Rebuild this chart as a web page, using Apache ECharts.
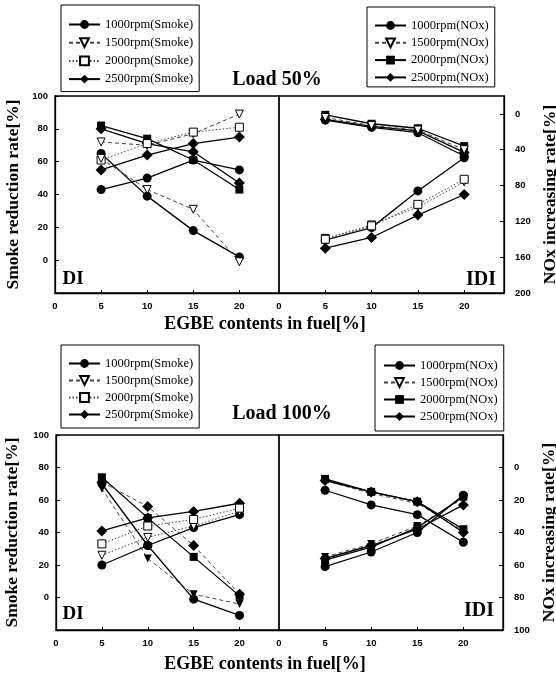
<!DOCTYPE html>
<html>
<head>
<meta charset="UTF-8">
<title>EGBE smoke / NOx</title>
<style>
body{margin:0;background:#fff;}
#picContainer{width:556px;height:677px;}
</style>
</head>
<body>
<div id="picContainer"></div>
<script src="https://cdn.jsdelivr.net/npm/echarts@6.0.0/dist/echarts.min.js"></script>
<script>
// EGBE contents in fuel [%]
var contents = [5, 10, 15, 20];
var xTicks = [0, 5, 10, 15, 20];
var smokeTicks = [0, 20, 40, 60, 80, 100];
var nox50Ticks = [0, 40, 80, 120, 160, 200];
var nox100Ticks = [0, 20, 40, 60, 80, 100];
var smokeNames = ['1000rpm(Smoke)', '1500rpm(Smoke)', '2000rpm(Smoke)', '2500rpm(Smoke)'];
var noxNames = ['1000rpm(NOx)', '1500rpm(NOx)', '2000rpm(NOx)', '2500rpm(NOx)'];

// Load 50%, DI  (two lines per speed)
var di50_1000 = [[65, 39, 18, 2], [43, 50, 61, 55]];
var di50_1500 = [[72, 70, 77, 89], [62, 43, 31, -1]];
var di50_2000 = [[61, 71, 78, 81], [82, 74, 61, 43]];
var di50_2500 = [[55, 64, 71, 75], [80, 71, 66, 47]];
// Load 50%, IDI (right axis, reversed)
var idi50_1000 = [[7, 15, 21, 47], [141, 127, 86, 49]];
var idi50_1500 = [[4, 13, 18, 40], [139, 124, 104, 76]];
var idi50_2000 = [[1, 11, 16, 36], [140, 125, 101, 73]];
var idi50_2500 = [[6, 14, 19, 43], [150, 138, 113, 90]];
// Load 100%, DI
var di100_1000 = [[70, 32, -1, -11], [20, 32, 43, 51]];
var di100_1500 = [[67, 24, 2, -4], [26, 37, 44, 53]];
var di100_2000 = [[74, 49, 25, 1], [33, 44, 48, 55]];
var di100_2500 = [[71, 56, 32, 2], [41, 49, 53, 58]];
// Load 100%, IDI
var idi100_1000 = [[14, 23, 29, 46], [61, 52, 40, 17]];
var idi100_1500 = [[8, 16, 22, 39], [55, 47, 36, 19]];
var idi100_2000 = [[7, 15, 21, 38], [57, 49, 37, 18]];
var idi100_2500 = [[8, 15, 21, 40], [56, 48, 38, 23]];

main();

function main(){
    var myChart = echarts.init(document.getElementById('picContainer'));
    var serif = 'Liberation Serif';
    var sans = 'Liberation Sans';

    // symbol, F(illed)/O(pen), line: '-' solid, ':' dotted, '~' dashed
    var panels = [
        {names: smokeNames, lines: [di50_1000, di50_1500, di50_2000, di50_2500],
         codes: [['cF-', 'cF-'], ['tO~', 'tO~'], ['rO:', 'rF-'], ['dF-', 'dF-']]},
        {names: noxNames, lines: [idi50_1000, idi50_1500, idi50_2000, idi50_2500],
         codes: [['cF-', 'cF-'], ['tO~', 'tO:'], ['rF-', 'rO:'], ['dF-', 'dF-']]},
        {names: smokeNames, lines: [di100_1000, di100_1500, di100_2000, di100_2500],
         codes: [['cF-', 'cF-'], ['tF~', 'tO:'], ['rF-', 'rO:'], ['dF~', 'dF-']]},
        {names: noxNames, lines: [idi100_1000, idi100_1500, idi100_2000, idi100_2500],
         codes: [['cF-', 'cF-'], ['tF~', 'tF~'], ['rF-', 'rF-'], ['dF-', 'dF-']]}
    ];

    var marks = {
        c: {symbol: 'circle', size: 9, rotate: 0},
        t: {symbol: 'triangle', size: 8, rotate: 180},
        r: {symbol: 'rect', size: 8, rotate: 0},
        d: {symbol: 'diamond', size: 11, rotate: 0}
    };

    function makeSeries(name, vals, code, gi){
        var m = marks[code[0]];
        var open = code[1] === 'O';
        var ls = {color: '#000', width: 1.3, type: 'solid'};
        if (code[2] === ':') ls = {color: '#444', width: 1, type: [1.5, 2]};
        if (code[2] === '~') ls = {color: '#444', width: 1, type: [4, 3]};
        return {
            name: name, type: 'line',
            xAxisIndex: gi, yAxisIndex: gi,
            data: contents.map(function (x, i) { return [x, vals[i]]; }),
            symbol: m.symbol, symbolSize: m.size, symbolRotate: m.rotate,
            showAllSymbol: true,
            itemStyle: {color: open ? '#fff' : '#000', borderColor: '#000', borderWidth: open ? 1 : 0},
            lineStyle: ls,
            emphasis: {disabled: true},
            z: open ? 3 : 2
        };
    }

    var series = [];
    panels.forEach(function (p, gi){
        for (var k = 0; k < 2; k++) {
            for (var r = 0; r < 4; r++) {
                series.push(makeSeries(p.names[r], p.lines[r][k], p.codes[r][k], gi));
            }
        }
    });

    var grids = [
        {left: 55, top: 96, width: 224, height: 197},
        {left: 279, top: 96, width: 225, height: 197},
        {left: 56, top: 435, width: 223, height: 195},
        {left: 279, top: 435, width: 224, height: 195}
    ];
    grids.forEach(function (g){
        g.show = true; g.borderColor = '#000'; g.borderWidth = 1.3;
        g.outerBoundsMode = 'none'; g.containLabel = false;
    });

    function xAxis(gi){
        return {
            type: 'value', gridIndex: gi, min: 0, max: 24.3,
            axisLine: {show: true, onZero: false, lineStyle: {color: '#000', width: 1.3}},
            axisTick: {show: true, inside: true, length: 3, customValues: xTicks, lineStyle: {color: '#000'}},
            axisLabel: {customValues: xTicks, fontFamily: sans, fontSize: 9.5, fontWeight: 'bold', color: '#000', margin: 8},
            splitLine: {show: false}
        };
    }
    function yAxis(gi, pos, min, max, ticks, inverse, name, gap){
        return {
            type: 'value', gridIndex: gi, position: pos, min: min, max: max, inverse: inverse,
            name: name, nameLocation: 'middle', nameRotate: 90, nameGap: gap,
            nameTextStyle: {fontFamily: serif, fontWeight: 'bold', fontSize: 17.5, color: '#000'},
            axisLine: {show: true, onZero: false, lineStyle: {color: '#000', width: 1.3}},
            axisTick: {show: true, inside: true, length: 4, customValues: ticks, lineStyle: {color: '#000'}},
            axisLabel: {customValues: ticks, fontFamily: sans, fontSize: 9.5, fontWeight: 'bold', color: '#000',
                        margin: pos === 'left' ? 7 : 11},
            splitLine: {show: false}
        };
    }

    function legend(names, left, top, pad, gap){
        return {
            data: names, orient: 'vertical', left: left, top: top,
            padding: pad, itemGap: gap, itemWidth: 31, itemHeight: 11,
            borderColor: '#000', borderWidth: 1, selectedMode: false,
            textStyle: {fontFamily: serif, fontSize: 12.5, color: '#000', lineHeight: 12}
        };
    }

    function label(text, x, y, size){
        return {
            type: 'text', x: x, y: y,
            style: {text: text, fontFamily: serif, fontWeight: 'bold', fontSize: size,
                    fill: '#000', align: 'center', verticalAlign: 'middle'}
        };
    }

    var option = {
        animation: false,
        backgroundColor: '#fff',
        grid: grids,
        xAxis: [xAxis(0), xAxis(1), xAxis(2), xAxis(3)],
        yAxis: [
            yAxis(0, 'left', -20, 100, smokeTicks, false, 'Smoke reduction rate[%]', 33),
            yAxis(1, 'right', -20, 200, nox50Ticks, true, 'NOx increasing rate[%]', 37),
            yAxis(2, 'left', -20, 100, smokeTicks, false, 'Smoke reduction rate[%]', 35),
            yAxis(3, 'right', -20, 100, nox100Ticks, true, 'NOx increasing rate[%]', 37)
        ],
        legend: [
            legend(smokeNames, 61, 5, [13, 6, 6, 7], 5.2),
            legend(noxNames, 367, 7, [12, 6, 3, 7], 4.3),
            legend(smokeNames, 61, 345, [12, 6, 7, 7], 4),
            legend(noxNames, 375, 345, [14, 6, 8, 8], 4)
        ],
        graphic: [
            label('Load 50%', 277, 80, 20),
            label('Load 100%', 282, 414, 20),
            label('EGBE contents in fuel[%]', 265, 324, 18),
            label('EGBE contents in fuel[%]', 265, 664, 18),
            label('DI', 73, 279, 19),
            label('IDI', 481, 280, 20),
            label('DI', 73, 614, 19),
            label('IDI', 479, 611, 20)
        ],
        series: series
    };
    myChart.setOption(option);
}
</script>
</body>
</html>
